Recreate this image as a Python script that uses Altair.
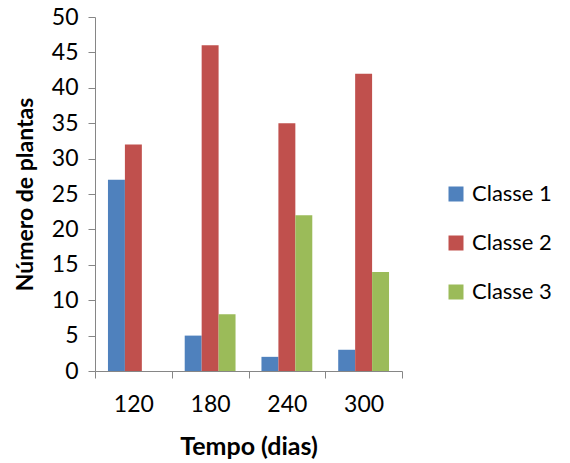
import altair as alt
import pandas as pd

tempos = ["120", "180", "240", "300"]
classes = ["Classe 1", "Classe 2", "Classe 3"]
classe1 = [27, 5, 2, 3]
classe2 = [32, 46, 35, 42]
classe3 = [0, 8, 22, 14]
colors = ["#4F81BD", "#C0504D", "#9BBB59"]

rows = []
for i, t in enumerate(tempos):
    for c, vals in zip(classes, [classe1, classe2, classe3]):
        rows.append({"Tempo": t, "Classe": c, "Valor": vals[i]})
df = pd.DataFrame(rows)

font = "Lato"
axis_color = "#868686"

chart = alt.Chart(df).mark_bar().encode(
    x=alt.X("Tempo:N", sort=tempos,
            scale=alt.Scale(paddingInner=0, paddingOuter=0),
            axis=alt.Axis(title="Tempo (dias)", labelAngle=0, tickBand="extent",
                          tickSize=7, labelPadding=15, titlePadding=18,
                          labelFontSize=23, titleFontSize=25, titleFontWeight="bold",
                          labelFont=font, titleFont=font, labelColor="#000000",
                          titleColor="#000000", domainColor=axis_color, tickColor=axis_color,
                          grid=False)),
    xOffset=alt.XOffset("Classe:N", sort=classes,
                        scale=alt.Scale(paddingInner=0, paddingOuter=0.765)),
    y=alt.Y("Valor:Q", scale=alt.Scale(domain=[0, 50], nice=False),
            axis=alt.Axis(title="Número de plantas", values=list(range(0, 51, 5)),
                          tickSize=7, labelPadding=10, titlePadding=14,
                          labelFontSize=23, titleFontSize=23, titleFontWeight="bold",
                          labelFont=font, titleFont=font, labelColor="#000000",
                          titleColor="#000000", domainColor=axis_color, tickColor=axis_color,
                          grid=False)),
    color=alt.Color("Classe:N", sort=classes,
                    scale=alt.Scale(domain=classes, range=colors),
                    legend=alt.Legend(title=None, orient="none", legendX=350, legendY=166,
                                      symbolType="square", symbolSize=225,
                                      symbolStrokeWidth=0, labelFontSize=22,
                                      labelFont=font, labelColor="#000000",
                                      rowPadding=27, labelOffset=5)),
).properties(
    width=307, height=354,
    autosize=alt.AutoSizeParams(type="none"),
    padding={"left": 95, "top": 17, "right": 168, "bottom": 92},
).configure(background="white", view=alt.ViewConfig(stroke=None))

chart.save("out.html", embed_options={"renderer": "svg", "actions": False})
